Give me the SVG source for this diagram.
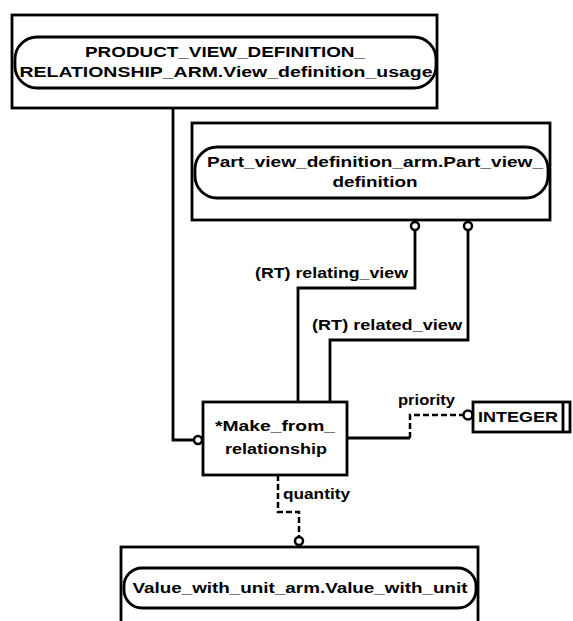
<svg xmlns="http://www.w3.org/2000/svg" width="573" height="621" viewBox="0 0 573 621">
<style>
.box{fill:#fff;stroke:#000;stroke-width:2.8}
.rr{fill:none;stroke:#000;stroke-width:2.8}
.ln{fill:none;stroke:#000;stroke-width:2.8}
.dash{fill:none;stroke:#000;stroke-width:2.5;stroke-dasharray:6,3}
.circ{fill:#fff;stroke:#000;stroke-width:2.5}
text{font-family:"Liberation Sans",Arial,sans-serif;font-weight:bold;font-size:14px;fill:#000}
.c{text-anchor:middle}
</style>
<rect width="573" height="621" fill="#fff"/>
<g id="connectors">
<polyline class="ln" points="173,108 173,440 194,440"/>
<polyline class="ln" points="415,230 415,288 298,288 298,402"/>
<polyline class="ln" points="468,230 468,340 330,340 330,402"/>
<polyline class="ln" points="347,438 410,438"/>
<polyline class="dash" points="410,438 410,415 464,415"/>
<polyline class="dash" points="278,475 278,512 299,512 299,537"/>
<circle class="circ" cx="198" cy="440" r="4"/>
<circle class="circ" cx="415" cy="226" r="4"/>
<circle class="circ" cx="468" cy="226" r="4"/>
<circle class="circ" cx="468" cy="415" r="4.5"/>
<circle class="circ" cx="299" cy="541" r="4"/>
<text x="255" y="278" textLength="153" lengthAdjust="spacingAndGlyphs">(RT) relating_view</text>
<text x="312" y="330" textLength="150" lengthAdjust="spacingAndGlyphs">(RT) related_view</text>
<text x="398" y="405" textLength="57" lengthAdjust="spacingAndGlyphs">priority</text>
<text x="283" y="499" textLength="67" lengthAdjust="spacingAndGlyphs">quantity</text>
</g>
<g id="node-pvdr">
<rect class="box" x="12" y="15" width="425" height="93"/>
<rect class="rr" x="15" y="37" width="421" height="51" rx="22" ry="22"/>
<text x="225" y="57" class="c" textLength="280" lengthAdjust="spacingAndGlyphs">PRODUCT_VIEW_DEFINITION_</text>
<text x="226" y="77" class="c" textLength="413" lengthAdjust="spacingAndGlyphs">RELATIONSHIP_ARM.View_definition_usage</text>
</g>
<g id="node-pvd">
<rect class="box" x="192" y="123" width="358" height="97"/>
<rect class="rr" x="195" y="147" width="353" height="51" rx="22" ry="22"/>
<text x="375" y="167" class="c" textLength="336" lengthAdjust="spacingAndGlyphs">Part_view_definition_arm.Part_view_</text>
<text x="375" y="187" class="c" textLength="85" lengthAdjust="spacingAndGlyphs">definition</text>
</g>
<g id="node-mfr">
<rect class="box" x="203" y="402" width="144" height="73"/>
<text x="275" y="431" class="c" textLength="120" lengthAdjust="spacingAndGlyphs">*Make_from_</text>
<text x="276" y="454" class="c" textLength="102" lengthAdjust="spacingAndGlyphs">relationship</text>
</g>
<g id="node-integer">
<rect class="box" x="473" y="402" width="97" height="30"/>
<line class="ln" x1="563" y1="402" x2="563" y2="432"/>
<text x="518" y="422" class="c" textLength="80" lengthAdjust="spacingAndGlyphs">INTEGER</text>
</g>
<g id="node-vwu">
<rect class="box" x="121" y="547" width="357" height="80"/>
<rect class="rr" x="124" y="568" width="352" height="40" rx="18" ry="18"/>
<text x="300" y="593" class="c" textLength="335" lengthAdjust="spacingAndGlyphs">Value_with_unit_arm.Value_with_unit</text>
</g>
</svg>
